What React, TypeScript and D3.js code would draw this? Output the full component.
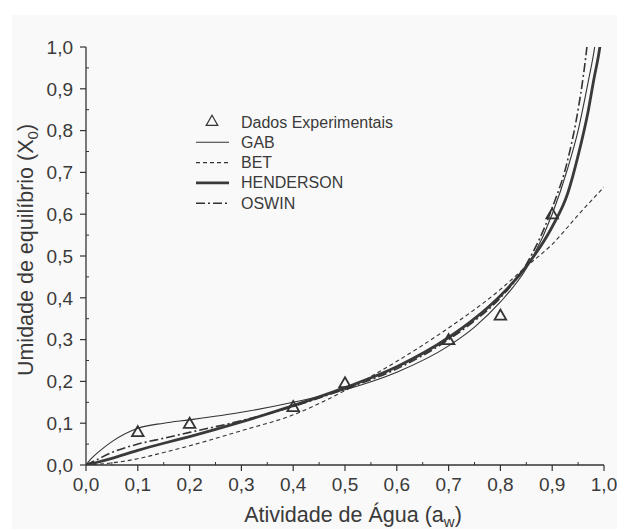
import React from "react";
import * as d3 from "d3";

const xTicks = [0, 0.1, 0.2, 0.3, 0.4, 0.5, 0.6, 0.7, 0.8, 0.9, 1.0];
const yTicks = [0, 0.1, 0.2, 0.3, 0.4, 0.5, 0.6, 0.7, 0.8, 0.9, 1.0];
const minorTicks = [0.05, 0.15, 0.25, 0.35, 0.45, 0.55, 0.65, 0.75, 0.85, 0.95];

const expAw = [0.1, 0.2, 0.4, 0.5, 0.7, 0.8, 0.9];
const expX = [0.077, 0.097, 0.137, 0.194, 0.297, 0.356, 0.598];

const gabAw = [0, 0.01, 0.025, 0.05, 0.1, 0.15, 0.2, 0.3, 0.4, 0.5, 0.6, 0.7, 0.75, 0.8, 0.85, 0.9, 0.93, 0.95, 0.97, 0.982, 0.99];
const gabX = [0, 0.015, 0.032, 0.056, 0.088, 0.1, 0.108, 0.126, 0.15, 0.18, 0.222, 0.285, 0.33, 0.39, 0.47, 0.6, 0.71, 0.8, 0.92, 1.0, 1.08];

const betAw = [0, 0.05, 0.1, 0.15, 0.2, 0.3, 0.4, 0.5, 0.6, 0.7, 0.8, 0.85, 0.9, 0.95, 1.0];
const betX = [0, 0.005, 0.015, 0.03, 0.046, 0.082, 0.12, 0.178, 0.248, 0.328, 0.42, 0.475, 0.528, 0.598, 0.665];

const hendAw = [0, 0.02, 0.05, 0.1, 0.15, 0.2, 0.3, 0.4, 0.5, 0.6, 0.7, 0.75, 0.8, 0.85, 0.9, 0.93, 0.95, 0.97, 0.98, 0.992, 0.998];
const hendX = [0, 0.006, 0.016, 0.035, 0.052, 0.068, 0.103, 0.142, 0.185, 0.235, 0.305, 0.35, 0.405, 0.475, 0.57, 0.65, 0.74, 0.85, 0.92, 1.0, 1.06];

const oswAw = [0, 0.02, 0.05, 0.1, 0.15, 0.2, 0.3, 0.4, 0.5, 0.6, 0.7, 0.75, 0.8, 0.85, 0.9, 0.93, 0.95, 0.96, 0.967, 0.975];
const oswX = [0, 0.012, 0.03, 0.05, 0.064, 0.078, 0.106, 0.14, 0.182, 0.23, 0.3, 0.345, 0.4, 0.48, 0.615, 0.73, 0.85, 0.93, 1.0, 1.1];

const legendLabels = ["Dados Experimentais", "GAB", "BET", "HENDERSON", "OSWIN"];

const W = 617;
const H = 529;
const x = d3.scaleLinear().domain([0, 1]).range([86, 604]);
const y = d3.scaleLinear().domain([0, 1]).range([465, 47]);

const INK = "#333";
const TXT = "#3a3a3a";
const FONT = "'Liberation Sans', Arial, Helvetica, sans-serif";

function pathOf(aw: number[], xs: number[]) {
  const pts: [number, number][] = aw.map((a, i) => [a, xs[i]]);
  return d3
    .line<[number, number]>()
    .x((d) => x(d[0]))
    .y((d) => y(d[1]))
    .curve(d3.curveMonotoneX)(pts) as string;
}

const styles = [
  { stroke: INK, width: 1.1, dash: "" },
  { stroke: INK, width: 1.1, dash: "4,3" },
  { stroke: "#3a3a3a", width: 2.8, dash: "" },
  { stroke: INK, width: 1.6, dash: "9,3,2,3" },
];

export default function App() {
  const tri = d3.symbol().type(d3.symbolTriangle).size(58)() as string;
  const series = [
    pathOf(gabAw, gabX),
    pathOf(betAw, betX),
    pathOf(hendAw, hendX),
    pathOf(oswAw, oswX),
  ];
  const legY = [122, 142.3, 162.6, 182.9, 203.2];
  return (
    <svg
      width={W}
      height={H}
      style={{ position: "absolute", left: 0, top: 0 }}
      fontFamily={FONT}
    >
      <rect x={0} y={0} width={W} height={H} fill="#ffffff" />
      <rect x={12} y={15} width={W - 12} height={H - 15} fill="#f9f9f9" />
      <defs>
        <clipPath id="plot">
          <rect x={86} y={47} width={518} height={418} />
        </clipPath>
      </defs>
      {/* axes */}
      <line x1={86} y1={465} x2={604} y2={465} stroke={INK} strokeWidth={1.3} />
      <line x1={86} y1={465} x2={86} y2={47} stroke={INK} strokeWidth={1.3} />
      {xTicks.map((t) => (
        <g key={"xt" + t}>
          <line x1={x(t)} x2={x(t)} y1={465} y2={471} stroke={INK} strokeWidth={1.2} />
          <text x={x(t)} y={491} textAnchor="middle" fontSize={19} fill={TXT}>
            {t.toFixed(1).replace(".", ",")}
          </text>
        </g>
      ))}
      {yTicks.map((t) => (
        <g key={"yt" + t}>
          <line x1={80} x2={86} y1={y(t)} y2={y(t)} stroke={INK} strokeWidth={1.2} />
          <text x={73} y={y(t) + 6.8} textAnchor="end" fontSize={19} fill={TXT}>
            {t.toFixed(1).replace(".", ",")}
          </text>
        </g>
      ))}
      {minorTicks.map((t) => (
        <g key={"mt" + t}>
          <line x1={x(t)} x2={x(t)} y1={465} y2={462} stroke={INK} strokeWidth={1} />
          <line x1={86} x2={89} y1={y(t)} y2={y(t)} stroke={INK} strokeWidth={1} />
        </g>
      ))}
      {/* curves */}
      <g clipPath="url(#plot)" fill="none">
        {series.map((d, i) => (
          <path
            key={"s" + i}
            d={d}
            stroke={styles[i].stroke}
            strokeWidth={styles[i].width}
            strokeDasharray={styles[i].dash || undefined}
          />
        ))}
      </g>
      {/* experimental points */}
      {expAw.map((a, i) => (
        <path
          key={"p" + i}
          d={tri}
          transform={`translate(${x(a)},${y(expX[i])})`}
          fill="none"
          stroke={INK}
          strokeWidth={1.8}
        />
      ))}
      {/* legend */}
      <path d={tri} transform={`translate(212,${legY[0]})`} fill="none" stroke={INK} strokeWidth={1.2} />
      {[0, 1, 2, 3].map((i) => (
        <line
          key={"ll" + i}
          x1={196}
          x2={229}
          y1={legY[i + 1]}
          y2={legY[i + 1]}
          stroke={styles[i].stroke}
          strokeWidth={styles[i].width}
          strokeDasharray={styles[i].dash || undefined}
        />
      ))}
      {legendLabels.map((l, i) => (
        <text key={"lt" + i} x={241} y={legY[i] + 5.5} fontSize={16} fill={TXT}>
          {l}
        </text>
      ))}
      {/* axis titles */}
      <text x={353} y={522} textAnchor="middle" fontSize={21.5} fill={TXT}>
        Atividade de Água (a
        <tspan fontSize={15} dy={5}>w</tspan>
        <tspan dy={-5}>)</tspan>
      </text>
      <text
        transform="translate(33,250) rotate(-90)"
        textAnchor="middle"
        fontSize={21.5}
        fill={TXT}
      >
        Umidade de equilíbrio (X
        <tspan fontSize={15} dy={5}>0</tspan>
        <tspan dy={-5}>)</tspan>
      </text>
    </svg>
  );
}
